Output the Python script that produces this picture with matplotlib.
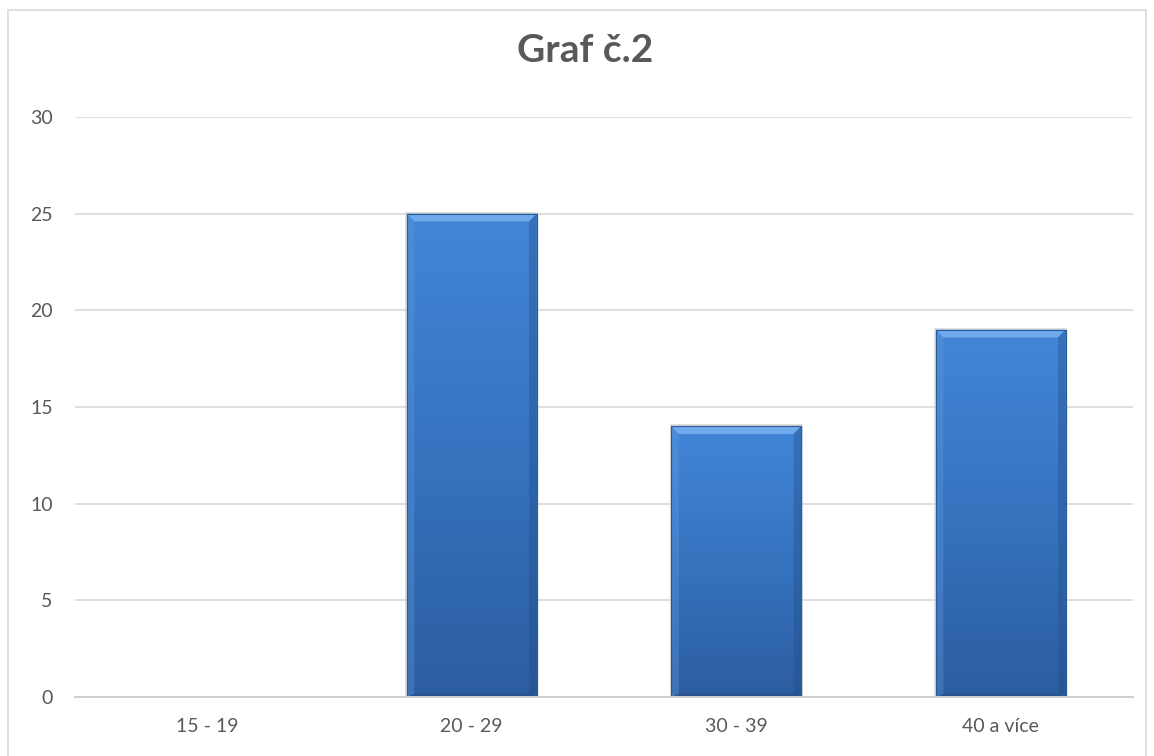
import numpy as np
import matplotlib
matplotlib.use("Agg")
import matplotlib.pyplot as plt
from matplotlib.patches import Rectangle, Polygon
from matplotlib.colors import LinearSegmentedColormap

categories = ["15 - 19", "20 - 29", "30 - 39", "40 a více"]
values = [0, 25, 14, 19]
title = "Graf č.2"

plt.rcParams['font.family'] = ['Lato', 'DejaVu Sans']
txt = "#595959"

fig = plt.figure(figsize=(11.54, 7.56), dpi=100)
# chart border
fig.patches.append(Rectangle((8/1154, -0.05), 1138/1154, 1 - 10/756 + 0.05,
                             transform=fig.transFigure, fill=False,
                             edgecolor="#d9d9d9", linewidth=1.2))

ax = fig.add_axes([75/1154, 1 - 697/756, 1058/1154, 580/756])
ax.set_xlim(-0.5, 3.5)
ax.set_ylim(0, 30)
ax.set_yticks(range(0, 31, 5))
ax.set_xticks(range(len(categories)))
ax.set_xticklabels(categories)
ax.tick_params(length=0, labelsize=14, colors=txt)
ax.tick_params(axis="y", pad=16)
ax.tick_params(axis="x", pad=15)
for s in ["top", "right", "left"]:
    ax.spines[s].set_visible(False)
ax.spines["bottom"].set_color("#d0d0d0")
ax.spines["bottom"].set_linewidth(1.5)
ax.yaxis.grid(True, color="#d9d9d9", linewidth=1.2)
ax.set_axisbelow(True)

cmap = LinearSegmentedColormap.from_list("bar", ["#2c5da0", "#3673bf", "#4286d8"])
grad = np.linspace(0, 1, 256).reshape(-1, 1)
width = 0.49
bars = ax.bar(range(len(values)), values, width=width, color="#3a7bcc",
              edgecolor="#2a5a98", linewidth=0.8, zorder=2)

for b in bars:
    h = b.get_height()
    if h <= 0:
        continue
    x0 = b.get_x()
    x1 = x0 + width
    # soft shadow
    ax.add_patch(Rectangle((x0 - 0.007, 0), width + 0.014, h + 0.1,
                           facecolor="#c0c0c0", edgecolor="none", alpha=0.5, zorder=1.5))
    im = ax.imshow(grad, extent=(x0, x1, 0, h), origin="lower", cmap=cmap,
                   aspect="auto", zorder=2.1)
    im.set_clip_path(b)
    # bevel edges
    dx = 0.028
    dy = 0.4
    ax.add_patch(Polygon([(x0, h), (x1, h), (x1 - dx, h - dy), (x0 + dx, h - dy)],
                         facecolor="#70aaec", edgecolor="none", zorder=2.3))
    ax.add_patch(Polygon([(x0, 0), (x0, h), (x0 + dx, h - dy), (x0 + dx, dy * 0.4)],
                         facecolor="#5f9be0", edgecolor="none", alpha=0.35, zorder=2.3))
    ax.add_patch(Polygon([(x1, 0), (x1, h), (x1 - dx, h - dy), (x1 - dx, dy * 0.4)],
                         facecolor="#1f4a85", edgecolor="none", alpha=0.35, zorder=2.3))
    ax.add_patch(Polygon([(x0, 0), (x1, 0), (x1 - dx, dy * 0.4), (x0 + dx, dy * 0.4)],
                         facecolor="#264f8a", edgecolor="none", zorder=2.3))
    ax.add_patch(Rectangle((x0, 0), width, h, fill=False, edgecolor="#2a5a98",
                           linewidth=0.8, zorder=2.4))

ax.set_xlim(-0.5, 3.5)
ax.set_ylim(0, 30)

fig.text(585/1154, 1 - 51/756, title, ha="center", va="center", fontsize=28,
         fontweight="bold", color=txt)

fig.savefig("out.png", dpi=100)
